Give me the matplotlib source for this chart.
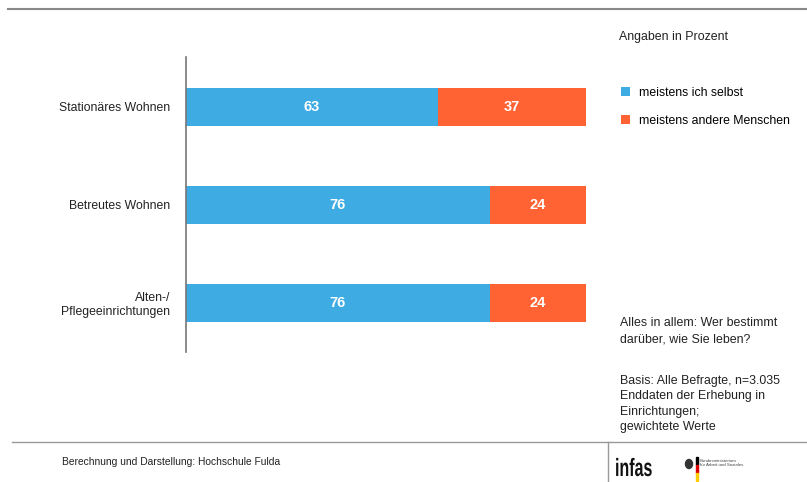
import matplotlib
matplotlib.use("Agg")
import matplotlib.pyplot as plt
from matplotlib.patches import Rectangle, Ellipse, PathPatch
from matplotlib.lines import Line2D
from matplotlib.textpath import TextPath
from matplotlib.font_manager import FontProperties
from matplotlib.transforms import Affine2D, IdentityTransform

plt.rcParams['font.family'] = ['Liberation Sans', 'DejaVu Sans']

# data
categories = ["Stationäres Wohnen", "Betreutes Wohnen", "Alten-/\nPflegeeinrichtungen"]
selbst = [63, 76, 76]
andere = [37, 24, 24]
series_names = ["meistens ich selbst", "meistens andere Menschen"]
blue = "#3EABE2"
orange = "#FF6333"

W, H = 807, 482


def px(x, y):
    return x / W, 1 - y / H


fig = plt.figure(figsize=(W / 100, H / 100), dpi=100)
left, top = px(186, 57)
right, bottom = px(585.7, 352)
ax = fig.add_axes([left, bottom, right - left, top - bottom])

ypos = list(range(len(categories)))
b1 = ax.barh(ypos, selbst, height=0.39, color=blue, label=series_names[0])
b2 = ax.barh(ypos, andere, left=selbst, height=0.39, color=orange, label=series_names[1])
for bars, vals, lefts in [(b1, selbst, [0] * 3), (b2, andere, selbst)]:
    for y, v, l in zip(ypos, vals, lefts):
        ax.text(l + v / 2, y, str(v), ha="center", va="center", color="white",
                fontsize=10.5, fontweight="bold")

ax.set_xlim(0, 100)
ax.set_ylim(2.5, -0.51)
ax.set_yticks(ypos)
ax.set_yticklabels(categories, fontsize=8.8, color="#222222", ha="right")
ax.tick_params(axis="y", length=0, pad=11.5)
ax.set_xticks([])
for s in ["top", "right", "bottom"]:
    ax.spines[s].set_visible(False)
ax.spines["left"].set_color("#777777")
ax.spines["left"].set_linewidth(1.2)

# legend
fig.legend(handles=[b1, b2], labels=series_names, loc="upper left",
           bbox_to_anchor=px(621, 87), frameon=False, fontsize=8.8,
           handlelength=0.75, handleheight=0.75, handletextpad=0.7,
           labelspacing=1.3, borderpad=0, borderaxespad=0)

txt = dict(fontsize=8.9, color="#222222", ha="left", va="center")
fig.text(*px(619, 37), "Angaben in Prozent", **txt)
fig.text(*px(620, 331), "Alles in allem: Wer bestimmt\ndarüber, wie Sie leben?",
         linespacing=1.45, **txt)
fig.text(*px(620, 404), "Basis: Alle Befragte, n=3.035\nEnddaten der Erhebung in\nEinrichtungen;\ngewichtete Werte",
         linespacing=1.4, **txt)
fig.text(*px(62, 462), "Berechnung und Darstellung: Hochschule Fulda", fontsize=7.4,
         color="#222222", ha="left", va="center")

# frame lines
fig.add_artist(Line2D([px(8, 0)[0], 1], [px(0, 9)[1]] * 2, color="#888888", lw=1.5))
fig.add_artist(Line2D([px(12, 0)[0], 1], [px(0, 442)[1]] * 2, color="#999999", lw=1.0))
fig.add_artist(Line2D([px(608, 0)[0]] * 2, [px(0, 442)[1], 0], color="#999999", lw=1.0))

# logos: condensed "infas" drawn as a path in pixel coordinates
tp = TextPath((0, 0), "infas", size=25, prop=FontProperties(family="Liberation Sans", weight="bold"))
logo_tr = Affine2D().scale(0.64, 1.0).translate(615, H - 476)
fig.add_artist(PathPatch(logo_tr.transform_path(tp), color="#111111", lw=0,
                         transform=IdentityTransform()))
fig.add_artist(Ellipse(px(689, 464), 7 / W, 9 / H, color="#333333"))
for i, c in enumerate(["#000000", "#DD0000", "#FFCC00"]):
    x0, y0 = px(696, 457 + 8 * (i + 1))
    fig.add_artist(Rectangle((x0, y0), 1.5 / W, 8 / H, color=c))
fig.text(*px(700, 463), "Bundesministerium\nfür Arbeit und Soziales", fontsize=3.2,
         color="#444444", ha="left", va="center", linespacing=1.2)

fig.savefig("out.png", dpi=100)
